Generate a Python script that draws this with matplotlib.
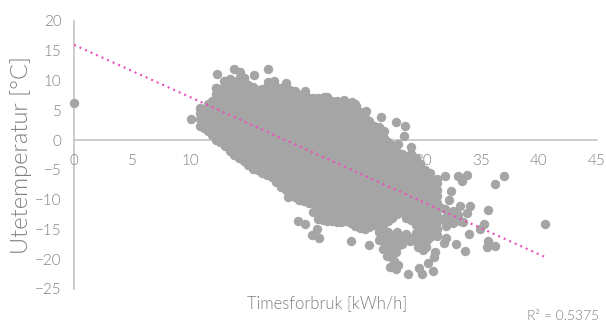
import matplotlib
matplotlib.use("Agg")
import matplotlib.pyplot as plt

plt.rcParams['font.family'] = ['Lato', 'DejaVu Sans']

# dense part of the cloud
col_x = [10.8, 11.5, 12.2, 13.0, 13.8, 14.6, 15.4, 16.2, 17.0, 17.8, 18.6, 19.4, 20.2, 21.0,
         21.8, 22.6, 23.4, 24.2, 25.0, 25.8, 26.6, 27.4, 28.2, 29.0, 29.8, 30.6, 31.2]
col_temp = [
    [2.4, 3.5, 4.6, 5.4],
    [1.5, 2.6, 3.7, 4.8, 6.0],
    [0.0, 1.1, 2.2, 3.3, 4.4, 5.5, 6.6, 7.7, 8.8],
    [-1.0, 0.1, 1.2, 2.3, 3.4, 4.5, 5.6, 6.7, 7.8, 8.9, 10.0],
    [-2.5, -1.4, -0.3, 0.8, 1.9, 3.0, 4.1, 5.2, 6.3, 7.4, 8.5, 9.6],
    [-3.5, -2.4, -1.3, -0.2, 0.9, 2.0, 3.1, 4.2, 5.3, 6.4, 7.5, 8.6, 9.7, 10.5],
    [-4.8, -3.7, -2.6, -1.5, -0.4, 0.7, 1.8, 2.9, 4.0, 5.1, 6.2, 7.3, 8.4, 8.9],
    [-5.5, -4.4, -3.3, -2.2, -1.1, 0.0, 1.1, 2.2, 3.3, 4.4, 5.5, 6.6, 7.7, 8.5],
    [-6.2, -5.1, -4.0, -2.9, -1.8, -0.7, 0.4, 1.5, 2.6, 3.7, 4.8, 5.9, 7.0, 8.1, 9.2],
    [-7.8, -6.7, -5.6, -4.5, -3.4, -2.3, -1.2, -0.1, 1.0, 2.1, 3.2, 4.3, 5.4, 6.5, 7.6, 8.7],
    [-9.0, -7.9, -6.8, -5.7, -4.6, -3.5, -2.4, -1.3, -0.2, 0.9, 2.0, 3.1, 4.2, 5.3, 6.4, 7.5, 8.4],
    [-10.0, -8.9, -7.8, -6.7, -5.6, -4.5, -3.4, -2.3, -1.2, -0.1, 1.0, 2.1, 3.2, 4.3, 5.4, 6.5, 7.6],
    [-10.5, -9.4, -8.3, -7.2, -6.1, -5.0, -3.9, -2.8, -1.7, -0.6, 0.5, 1.6, 2.7, 3.8, 4.9, 6.0, 7.0],
    [-13.3, -12.2, -11.1, -10.0, -8.9, -7.8, -6.7, -5.6, -4.5, -3.4, -2.3, -1.2, -0.1, 1.0, 2.1, 3.2, 4.3, 5.4, 6.5, 7.0],
    [-13.5, -12.4, -11.3, -10.2, -9.1, -8.0, -6.9, -5.8, -4.7, -3.6, -2.5, -1.4, -0.3, 0.8, 1.9, 3.0, 4.1, 5.2, 6.3, 7.2],
    [-13.8, -12.7, -11.6, -10.5, -9.4, -8.3, -7.2, -6.1, -5.0, -3.9, -2.8, -1.7, -0.6, 0.5, 1.6, 2.7, 3.8, 4.9, 6.0],
    [-13.6, -12.5, -11.4, -10.3, -9.2, -8.1, -7.0, -5.9, -4.8, -3.7, -2.6, -1.5, -0.4, 0.7, 1.8, 2.9, 4.0, 5.1, 6.2],
    [-14.5, -13.4, -12.3, -11.2, -10.1, -9.0, -7.9, -6.8, -5.7, -4.6, -3.5, -2.4, -1.3, -0.2, 0.9, 2.0, 3.1, 4.2, 5.3, 6.0],
    [-15.0, -13.9, -12.8, -11.7, -10.6, -9.5, -8.4, -7.3, -6.2, -5.1, -4.0, -2.9, -1.8, -0.7, 0.4, 1.5, 2.6, 3.7, 4.8],
    [-14.2, -13.1, -12.0, -10.9, -9.8, -8.7, -7.6, -6.5, -5.4, -4.3, -3.2, -2.1, -1.0, 0.1, 1.2, 2.3],
    [-14.3, -13.2, -12.1, -11.0, -9.9, -8.8, -7.7, -6.6, -5.5, -4.4, -3.3, -2.2, -1.1, 0.0],
    [-13.0, -11.9, -10.8, -9.7, -8.6, -7.5, -6.4, -5.3, -4.2, -3.1, -2.0, -0.9],
    [-12.0, -10.9, -9.8, -8.7, -7.6, -6.5, -5.4, -4.3, -3.2, -2.3],
    [-13.4, -12.3, -11.2, -10.1, -9.0, -7.9, -6.8, -5.7, -4.6, -3.5, -2.4],
    [-15.0, -13.9, -12.8, -11.7, -10.6, -9.5, -8.4, -7.3, -6.2, -5.1, -4.0],
    [-15.2, -14.1, -13.0, -11.9, -10.8, -9.7, -8.6, -7.5, -6.4, -5.6],
    [-16.0, -14.9, -13.8, -12.7, -11.6, -10.5, -9.4, -8.3, -7.2, -6.5],
]

# columns in between, they close the stripes
mid_x = [11.15, 11.85, 12.6, 13.4, 14.2, 15.0, 15.8, 16.6, 17.4, 18.2, 19.0, 19.8, 20.6, 21.4,
         22.2, 23.0, 23.8, 24.6, 25.4, 26.2, 27.0, 27.8, 28.6, 29.4, 30.2, 30.9]
mid_temp = [
    [2.0, 3.5, 5.0],
    [0.8, 2.3, 3.8, 5.3, 6.6],
    [-0.4, 1.1, 2.6, 4.1, 5.6, 7.1, 8.6],
    [-1.8, -0.3, 1.2, 2.7, 4.2, 5.7, 7.2, 8.7, 10.2],
    [-3.0, -1.5, 0.0, 1.5, 3.0, 4.5, 6.0, 7.5, 9.0, 10.3],
    [-4.2, -2.7, -1.2, 0.3, 1.8, 3.3, 4.8, 6.3, 7.8, 9.3],
    [-5.1, -3.6, -2.1, -0.6, 0.9, 2.4, 3.9, 5.4, 6.9, 8.4],
    [-5.8, -4.3, -2.8, -1.3, 0.2, 1.7, 3.2, 4.7, 6.2, 7.7, 9.0],
    [-7.0, -5.5, -4.0, -2.5, -1.0, 0.5, 2.0, 3.5, 5.0, 6.5, 8.0, 9.0],
    [-8.4, -6.9, -5.4, -3.9, -2.4, -0.9, 0.6, 2.1, 3.6, 5.1, 6.6, 8.1],
    [-9.5, -8.0, -6.5, -5.0, -3.5, -2.0, -0.5, 1.0, 2.5, 4.0, 5.5, 7.0, 8.2],
    [-10.2, -8.7, -7.2, -5.7, -4.2, -2.7, -1.2, 0.3, 1.8, 3.3, 4.8, 6.3, 7.5],
    [-12.0, -10.5, -9.0, -7.5, -6.0, -4.5, -3.0, -1.5, 0.0, 1.5, 3.0, 4.5, 6.0, 7.0],
    [-13.4, -11.9, -10.4, -8.9, -7.4, -5.9, -4.4, -2.9, -1.4, 0.1, 1.6, 3.1, 4.6, 6.1, 7.0],
    [-13.6, -12.1, -10.6, -9.1, -7.6, -6.1, -4.6, -3.1, -1.6, -0.1, 1.4, 2.9, 4.4, 5.9, 6.6],
    [-13.7, -12.2, -10.7, -9.2, -7.7, -6.2, -4.7, -3.2, -1.7, -0.2, 1.3, 2.8, 4.3, 5.8],
    [-14.0, -12.5, -11.0, -9.5, -8.0, -6.5, -5.0, -3.5, -2.0, -0.5, 1.0, 2.5, 4.0, 5.5],
    [-14.8, -13.3, -11.8, -10.3, -8.8, -7.3, -5.8, -4.3, -2.8, -1.3, 0.2, 1.7, 3.2, 4.7],
    [-14.6, -13.1, -11.6, -10.1, -8.6, -7.1, -5.6, -4.1, -2.6, -1.1, 0.4, 1.9, 3.2],
    [-14.2, -12.7, -11.2, -9.7, -8.2, -6.7, -5.2, -3.7, -2.2, -0.7, 0.8, 2.2],
    [-13.6, -12.1, -10.6, -9.1, -7.6, -6.1, -4.6, -3.1, -1.6, -0.3],
    [-12.4, -10.9, -9.4, -7.9, -6.4, -4.9, -3.4, -2.0],
    [-13.0, -11.5, -10.0, -8.5, -7.0, -5.5, -4.0, -2.6],
    [-14.2, -12.7, -11.2, -9.7, -8.2, -6.7, -5.2, -3.7],
    [-15.2, -13.7, -12.2, -10.7, -9.2, -7.7, -6.2, -5.0],
    [-15.6, -14.1, -12.6, -11.1, -9.6, -8.1, -6.8],
]

# single points and the lower lobe, picked one at a time
extra_x = [0.0, 10.1, 12.3, 12.2, 12.9, 13.8, 14.3, 14.6, 15.5, 16.7, 16.7, 17.2, 18.2, 19.9,
           20.8, 21.5, 22.6, 23.2, 23.9, 24.3, 25.1, 25.7, 26.4, 26.7, 27.7, 28.5, 28.4, 26.7,
           27.9, 29.0, 29.4, 28.0, 18.4, 19.3, 19.6, 19.9, 20.5, 20.9, 21.1, 23.8, 25.4, 26.2,
           26.6, 27.0, 27.4, 27.7, 28.1, 28.5, 28.9, 29.4, 30.0, 30.4, 26.9, 27.2, 27.7, 27.9,
           28.7, 29.7, 29.9, 30.5, 30.9, 31.0, 31.1, 31.2, 31.8, 32.0, 32.9, 33.6, 31.9, 33.0,
           33.4, 33.8, 37.0, 36.2, 32.4, 32.3, 31.9, 32.1, 32.6, 33.0, 33.5, 34.1, 33.8, 33.2,
           32.6, 35.6, 40.5, 35.3, 34.9, 34.0, 35.6, 36.2, 35.5,
           26.2, 26.6, 27.0, 27.4, 27.8, 28.2, 28.6, 29.0, 29.4, 29.8, 30.2, 30.6, 26.6, 27.1,
           27.3, 27.5, 31.6, 31.7, 32.2, 32.4, 32.8, 33.2, 32.0,
           26.4, 27.0, 27.6, 28.2, 28.8, 29.3, 29.8, 30.3, 27.4, 28.0, 29.6, 30.2]
extra_temp = [6.3, 3.5, 11.1, 8.8, 10.0, 11.9, 11.5, 10.5, 11.0, 11.9, 9.8, 10.0, 9.6, 8.3,
              6.9, 7.3, 6.5, 6.8, 6.4, 5.7, 4.9, 2.4, 3.8, 0.4, 3.0, 2.4, 0.7, 1.5,
              -0.6, -1.1, -3.0, -2.8, -9.5, -13.5, -10.0, -14.1, -16.0, -14.9, -16.4, -17.0, -17.6, -16.8,
              -15.8, -17.4, -16.2, -18.8, -16.5, -16.0, -17.0, -15.6, -18.5, -16.8, -19.4, -21.3, -21.7, -20.9,
              -22.4, -21.5, -22.4, -20.7, -21.9, -19.6, -18.8, -16.1, -17.3, -16.4, -17.4, -18.7, -6.0, -6.0,
              -6.8, -5.8, -6.1, -7.4, -8.6, -10.0, -11.5, -12.8, -14.0, -12.6, -13.8, -11.1, -12.2, -11.1,
              -11.9, -11.8, -14.1, -14.1, -15.0, -15.7, -17.0, -17.7, -18.0,
              -15.5, -17.0, -15.5, -17.2, -15.5, -17.5, -15.8, -16.5, -17.0, -16.2, -17.5, -16.2, -18.2, -18.5,
              -19.6, -20.3, -11.4, -13.2, -12.2, -13.6, -12.6, -13.6, -14.4,
              -16.4, -16.6, -16.4, -16.8, -16.4, -16.2, -17.6, -18.0, -18.0, -17.6, -18.0, -15.6]

trend_x = [0.0, 40.5]
trend_y = [16.0, -19.6]

x_ticks = [0, 5, 10, 15, 20, 25, 30, 35, 40, 45]
y_ticks = [20, 15, 10, 5, 0, -5, -10, -15, -20, -25]

forbruk = list(extra_x)
temp = list(extra_temp)
for cx, temps in zip(col_x + mid_x, col_temp + mid_temp):
    for t in temps:
        forbruk.append(cx)
        temp.append(t)

fig = plt.figure(figsize=(6.06, 3.23), dpi=100)
ax = fig.add_axes([74 / 606, 1 - 289 / 323, 523 / 606, 268 / 323])
ax.set_xlim(0, 45)
ax.set_ylim(-25, 20)

ax.scatter(forbruk, temp, s=46, color='#a5a5a5', linewidths=0, clip_on=False, zorder=1)
ax.plot(trend_x, trend_y, color='#ec4fc0', lw=1.5, ls=(0, (1, 1.9)), zorder=2)

ax.set_axisbelow(True)
for s in ['top', 'right']:
    ax.spines[s].set_visible(False)
ax.spines['left'].set_position(('data', 0))
ax.spines['bottom'].set_position(('data', 0))
ax.spines['left'].set_color('#bfbfbf')
ax.spines['bottom'].set_color('#bfbfbf')
ax.spines['left'].set_linewidth(1.1)
ax.spines['bottom'].set_linewidth(1.1)
ax.spines['left'].set_zorder(0.5)
ax.spines['bottom'].set_zorder(0.5)

ax.set_xticks(x_ticks)
ax.set_yticks(y_ticks)
ax.tick_params(length=0, labelsize=11, labelcolor='#7f7f7f', pad=10)
ax.tick_params(axis='y', pad=9)
for lab in ax.get_xticklabels() + ax.get_yticklabels():
    lab.set_fontweight(300)

fig.text(21 / 606, 1 - 155 / 323, 'Utetemperatur [°C]', rotation=90, ha='center', va='center',
         fontsize=17, color='#7f7f7f', fontweight=300)
fig.text(327 / 606, 1 - 303 / 323, 'Timesforbruk [kWh/h]', ha='center', va='center',
         fontsize=12, color='#7f7f7f', fontweight=300)
fig.text(599 / 606, 1 - 316 / 323, 'R² = 0.5375', ha='right', va='center',
         fontsize=10, color='#7f7f7f', fontweight=300)

fig.savefig('out.png', dpi=100)
